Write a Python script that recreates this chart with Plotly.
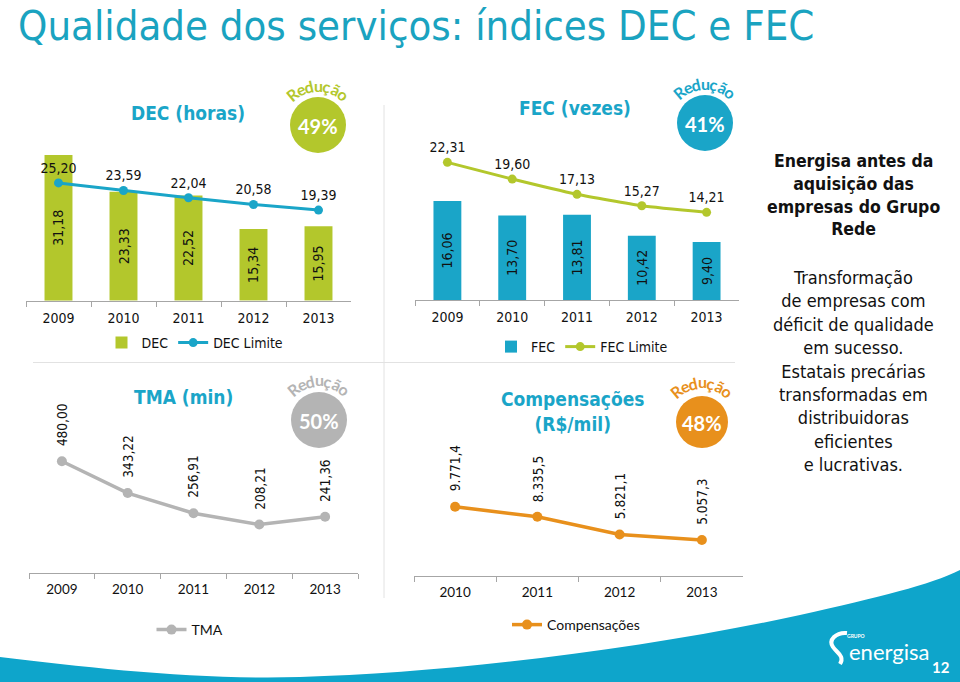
import math
import plotly.graph_objects as go

W, H = 960, 682


def fx(p):
    return p / W


def fy(p):
    return 1 - p / H


# ---------------- data ----------------
years = ["2009", "2010", "2011", "2012", "2013"]
dec = [31.18, 23.33, 22.52, 15.34, 15.95]
dec_limite = [25.20, 23.59, 22.04, 20.58, 19.39]
fec = [16.06, 13.70, 13.81, 10.42, 9.40]
fec_limite = [22.31, 19.60, 17.13, 15.27, 14.21]
tma = [480.00, 343.22, 256.91, 208.21, 241.36]
comp_years = ["2010", "2011", "2012", "2013"]
compensacoes = [9771.4, 8335.5, 5821.1, 5057.3]
reducoes = ["49%", "41%", "50%", "48%"]

GREEN = "#B3C72C"
TEAL = "#1AA5C8"
TITLE = "#1AA3C0"
GRAY = "#B4B4B4"
ORANGE = "#E8901C"
BLUE_BAND = "#0EA5CB"
TXT = "#111111"

FONT = "DejaVu Sans Condensed, DejaVu Sans, sans-serif"
FONT2 = "Lato, Open Sans, sans-serif"


def br(v, dec_places):
    s = f"{v:,.{dec_places}f}"
    return s.replace(",", "X").replace(".", ",").replace("X", ".")


fig = go.Figure()

# ---- DEC ----
fig.add_trace(go.Bar(
    x=years, y=dec, name="DEC", marker=dict(color=GREEN, line=dict(width=0)),
    width=0.43, texttemplate="%{y:.2f}", textposition="inside", textangle=-90,
    insidetextanchor="middle", constraintext="none",
    insidetextfont=dict(color=TXT, size=14, family=FONT),
    xaxis="x", yaxis="y", legend="legend"))
fig.add_trace(go.Scatter(
    x=years, y=dec_limite, name="DEC Limite", mode="lines+markers+text",
    line=dict(color=TEAL, width=3), marker=dict(color=TEAL, size=9),
    texttemplate="%{y:.2f}", textposition="top center",
    textfont=dict(color=TXT, size=14, family=FONT), cliponaxis=False,
    xaxis="x", yaxis="y", legend="legend"))

# ---- FEC ----
fig.add_trace(go.Bar(
    x=years, y=fec, name="FEC", marker=dict(color=TEAL, line=dict(width=0)),
    width=0.43, texttemplate="%{y:.2f}", textposition="inside", textangle=-90,
    insidetextanchor="middle", constraintext="none",
    insidetextfont=dict(color=TXT, size=14, family=FONT),
    xaxis="x2", yaxis="y2", legend="legend2"))
fig.add_trace(go.Scatter(
    x=years, y=fec_limite, name="FEC Limite", mode="lines+markers+text",
    line=dict(color=GREEN, width=3, shape="spline", smoothing=0.5),
    marker=dict(color=GREEN, size=9),
    texttemplate="%{y:.2f}", textposition="top center",
    textfont=dict(color=TXT, size=14, family=FONT), cliponaxis=False,
    xaxis="x2", yaxis="y2", legend="legend2"))

# ---- TMA ----
fig.add_trace(go.Scatter(
    x=years, y=tma, name="TMA", mode="lines+markers",
    line=dict(color=GRAY, width=3.5), marker=dict(color=GRAY, size=10),
    cliponaxis=False, xaxis="x3", yaxis="y3", legend="legend3"))

# ---- Compensações ----
fig.add_trace(go.Scatter(
    x=comp_years, y=compensacoes, name="Compensações", mode="lines+markers",
    line=dict(color=ORANGE, width=3.5), marker=dict(color=ORANGE, size=10),
    cliponaxis=False, xaxis="x4", yaxis="y4", legend="legend4"))


def xax(x0, x1, font, size, standoff, anchor, cats):
    return dict(domain=[fx(x0), fx(x1)], type="category", anchor=anchor,
                categoryorder="array", categoryarray=cats,
                range=[-0.5, len(cats) - 0.5], autorange=False,
                showline=True, linecolor="#A6A6A6", linewidth=1, ticks="outside",
                tickson="boundaries", ticklen=5, tickcolor="#A6A6A6",
                showgrid=False, zeroline=False, fixedrange=True,
                ticklabelstandoff=standoff, tickangle=0,
                tickfont=dict(family=font, size=size, color=TXT))


def yax(base, scale, vmax, anchor):
    top = base - vmax * scale
    return dict(domain=[fy(base), fy(top)], range=[0, vmax], visible=False,
                autorange=False, anchor=anchor, fixedrange=True,
                showgrid=False, zeroline=False)


def leg(cx, cy, font, size):
    return dict(orientation="h", x=fx(cx), y=fy(cy), xanchor="center",
                yanchor="middle", bgcolor="rgba(0,0,0,0)",
                font=dict(family=font, size=size, color=TXT),
                itemwidth=30, tracegroupgap=0)


annotations = []
shapes = []


def ann(x, y, text, size, color=TXT, family=FONT, bold=False, **kw):
    d = dict(x=fx(x), y=fy(y), xref="paper", yref="paper", text=text,
             showarrow=False, xanchor="center", yanchor="middle",
             font=dict(size=size, color=color, family=family,
                       weight="bold" if bold else "normal"))
    d.update(kw)
    annotations.append(d)


# title
ann(17, 26, "Qualidade dos serviços: índices DEC e FEC", 41.5, TITLE,
    xanchor="left", borderpad=0)

# chart headings
ann(188, 113, "DEC (horas)", 19, TEAL, bold=True)
ann(575, 108, "FEC (vezes)", 19, TEAL, bold=True)
ann(183, 397, "TMA (min)", 19, TEAL, bold=True)
ann(572, 411, "Compensações<br>(R$/mil)", 19, TEAL, bold=True)

# rotated labels on line charts (x = category position)
for i, v in enumerate(tma):
    annotations.append(dict(x=i, y=v, xref="x3", yref="y3", text=br(v, 2),
                            textangle=-90, showarrow=False, xanchor="center",
                            yanchor="bottom", yshift=13,
                            font=dict(size=13.5, color=TXT, family=FONT)))
for i, v in enumerate(compensacoes):
    annotations.append(dict(x=i, y=v, xref="x4", yref="y4", text=br(v, 1),
                            textangle=-90, showarrow=False, xanchor="center",
                            yanchor="bottom", yshift=13,
                            font=dict(size=13.5, color=TXT, family=FONT)))


def badge(cx, cy, r, color, pct):
    shapes.append(dict(type="circle", xref="paper", yref="paper",
                       x0=fx(cx - r), x1=fx(cx + r), y0=fy(cy + r), y1=fy(cy - r),
                       fillcolor=color, line=dict(width=0), layer="above"))
    ann(cx, cy + 1, pct, 20, "white", FONT2, bold=True)
    word = "Redução"
    n = len(word)
    for j, ch in enumerate(word):
        th = -40 + j * 80 / (n - 1)
        t = math.radians(th)
        px = cx + 40 * math.sin(t)
        py = cy - 40 * math.cos(t)
        ann(px, py, ch, 16, color, FONT2, bold=True, textangle=th)


badge(318, 125, 28, GREEN, reducoes[0])
badge(705, 123, 28, TEAL, reducoes[1])
badge(319, 420, 28, GRAY, reducoes[2])
badge(702, 422, 26, ORANGE, reducoes[3])

# right-hand text
ann(853, 195, "Energisa antes da<br>aquisição das<br>empresas do Grupo<br>Rede", 17.5,
    TXT, bold=True, align="center")
ann(853, 371, "Transformação<br>de empresas com<br>déficit de qualidade<br>em sucesso.<br>"
    "Estatais precárias<br>transformadas em<br>distribuidoras<br>eficientes<br>e lucrativas.",
    18, TXT, align="center")

# separators
shapes.append(dict(type="line", xref="paper", yref="paper", x0=fx(33), x1=fx(735),
                   y0=fy(362.5), y1=fy(362.5), line=dict(color="#E2E2E2", width=1)))
shapes.append(dict(type="line", xref="paper", yref="paper", x0=fx(384), x1=fx(384),
                   y0=fy(105), y1=fy(598), line=dict(color="#E2E2E2", width=1)))


def path(cmds):
    out = []
    for c in cmds:
        if isinstance(c, str):
            out.append(c)
        else:
            out.append(f"{fx(c[0]):.5f},{fy(c[1]):.5f}")
    return " ".join(out)


wave = path(["M", (0, 657), "C", (90, 668), (200, 680), (300, 677),
             "C", (450, 673), (650, 648), (800, 615),
             "C", (880, 597), (930, 585), (960, 570),
             "L", (960, 682), "L", (0, 682), "Z"])
shapes.append(dict(type="path", xref="paper", yref="paper", path=wave,
                   fillcolor=BLUE_BAND, line=dict(width=0), layer="below"))

# logo
swoosh = path(["M", (847, 633), "C", (836, 632), (828, 640), (833, 647),
               "C", (837, 653), (845, 656), (840, 664)])
shapes.append(dict(type="path", xref="paper", yref="paper", path=swoosh,
                   line=dict(color="white", width=4)))
ann(889, 651, "energisa", 22, "white", FONT2)
ann(856, 636, "GRUPO", 5, "white", FONT2, bold=True)
ann(941, 667, "12", 15, "white", FONT2, bold=True)

fig.update_layout(
    width=W, height=H, autosize=False,
    margin=dict(l=0, r=0, t=0, b=0),
    paper_bgcolor="white", plot_bgcolor="rgba(0,0,0,0)",
    separators=",.", font=dict(family=FONT, color=TXT), hovermode=False,
    barmode="overlay",
    xaxis=xax(26, 351, FONT, 14, 4, "y", years),
    yaxis=yax(300.7, 4.673, 33, "x"),
    xaxis2=xax(415, 739, FONT, 14, 4, "y2", years),
    yaxis2=yax(300, 6.17, 25, "x2"),
    xaxis3=xax(29, 358, FONT2, 13.5, 4, "y3", years),
    yaxis3=yax(573, 0.2329, 700, "x3"),
    xaxis4=xax(414, 743, FONT2, 13.5, 4, "y4", comp_years),
    yaxis4=yax(575.7, 0.007064, 14000, "x4"),
    legend=leg(195, 343, FONT, 14),
    legend2=leg(582, 347, FONT, 14),
    legend3=leg(190, 630, FONT2, 14),
    legend4=leg(576, 625, FONT2, 14),
    annotations=annotations, shapes=shapes,
)

fig.write_html("out.html", config={"displayModeBar": False},
               post_script="document.body.style.margin='0';")
